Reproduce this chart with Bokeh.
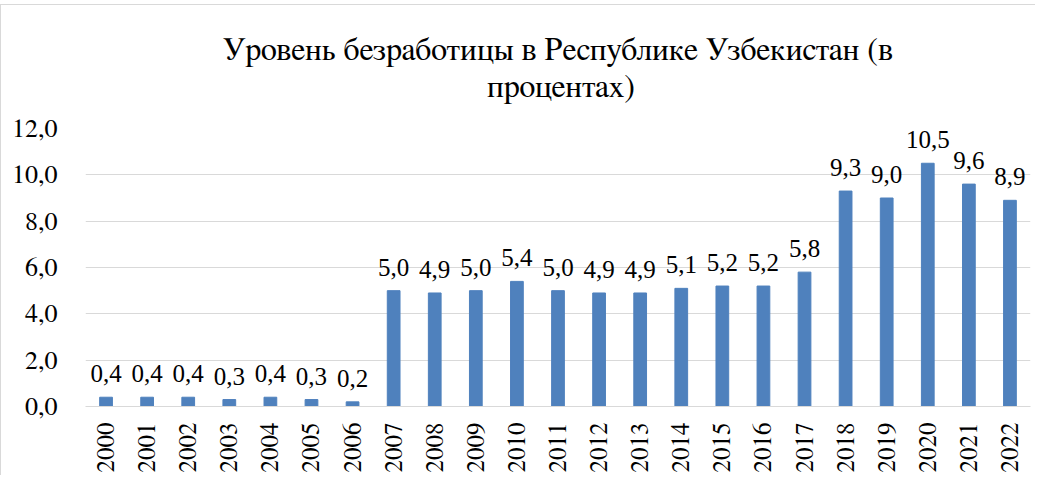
from bokeh.plotting import figure
from bokeh.models import ColumnDataSource, Range1d, FactorRange, LabelSet, CustomJSTickFormatter
from bokeh.embed import file_html
from bokeh.resources import INLINE

years = [str(y) for y in range(2000, 2023)]
rates = [0.4, 0.4, 0.4, 0.3, 0.4, 0.3, 0.2, 5.0, 4.9, 5.0, 5.4, 5.0, 4.9, 4.9,
         5.1, 5.2, 5.2, 5.8, 9.3, 9.0, 10.5, 9.6, 8.9]
labels = [f"{v:.1f}".replace(".", ",") for v in rates]
y_ticks = [0, 2, 4, 6, 8, 10, 12]
title_lines = ["Уровень безработицы в Республике Узбекистан (в", "процентах)"]

FONT = "FreeSerif"
src = ColumnDataSource(dict(year=years, rate=rates, label=labels))

# second title line is centred under the first with non-breaking spaces
NBSP = "\u00a0"
title_text = title_lines[0] + "\n" + NBSP * 33 + title_lines[1]

p = figure(x_range=FactorRange(*years, range_padding=0), y_range=Range1d(0, 12),
           width=1035, height=471, frame_width=945, frame_height=278,
           output_backend="svg", toolbar_location=None,
           min_border_left=84, min_border_right=5, min_border_top=123, min_border_bottom=0,
           title=title_text)
p.margin = (4, 0, 0, 0)
p.title.align = "center"
p.title.offset = -55
p.title.text_font = FONT
p.title.text_font_size = "32px"
p.title.text_font_style = "normal"
p.title.text_color = "#000000"
p.title.text_line_height = 1.15
p.title.standoff = 51

p.vbar(x="year", top="rate", width=0.31, source=src, color="#4F81BD")
p.add_layout(LabelSet(x="year", y="rate", text="label", source=src, text_align="center",
                      text_baseline="alphabetic", y_offset=15, text_font=FONT,
                      text_font_size="25px", text_color="#000000"))

p.outline_line_color = None
p.xgrid.grid_line_color = None
p.ygrid.grid_line_color = "#D9D9D9"
p.ygrid.grid_line_width = 1
p.yaxis.ticker = y_ticks
p.yaxis.formatter = CustomJSTickFormatter(code="return tick.toFixed(1).replace('.', ',');")
p.yaxis.axis_line_color = None
p.yaxis.major_tick_line_color = None
p.yaxis.minor_tick_line_color = None
p.yaxis.major_label_standoff = 22
p.yaxis.major_label_text_font = FONT
p.yaxis.major_label_text_font_size = "26px"
p.yaxis.major_label_text_color = "#000000"

p.xaxis.axis_line_color = "#D9D9D9"
p.xaxis.major_tick_line_color = None
p.xaxis.minor_tick_line_color = None
p.xaxis.major_label_orientation = 1.5707963
p.xaxis.major_label_standoff = 10
p.xaxis.major_label_text_font = FONT
p.xaxis.major_label_text_font_size = "25px"
p.xaxis.major_label_text_color = "#000000"

p.styles = {"border-top": "1px solid #D9D9D9", "border-left": "1px solid #D9D9D9"}

open("out.html", "w").write(file_html(p, INLINE))
